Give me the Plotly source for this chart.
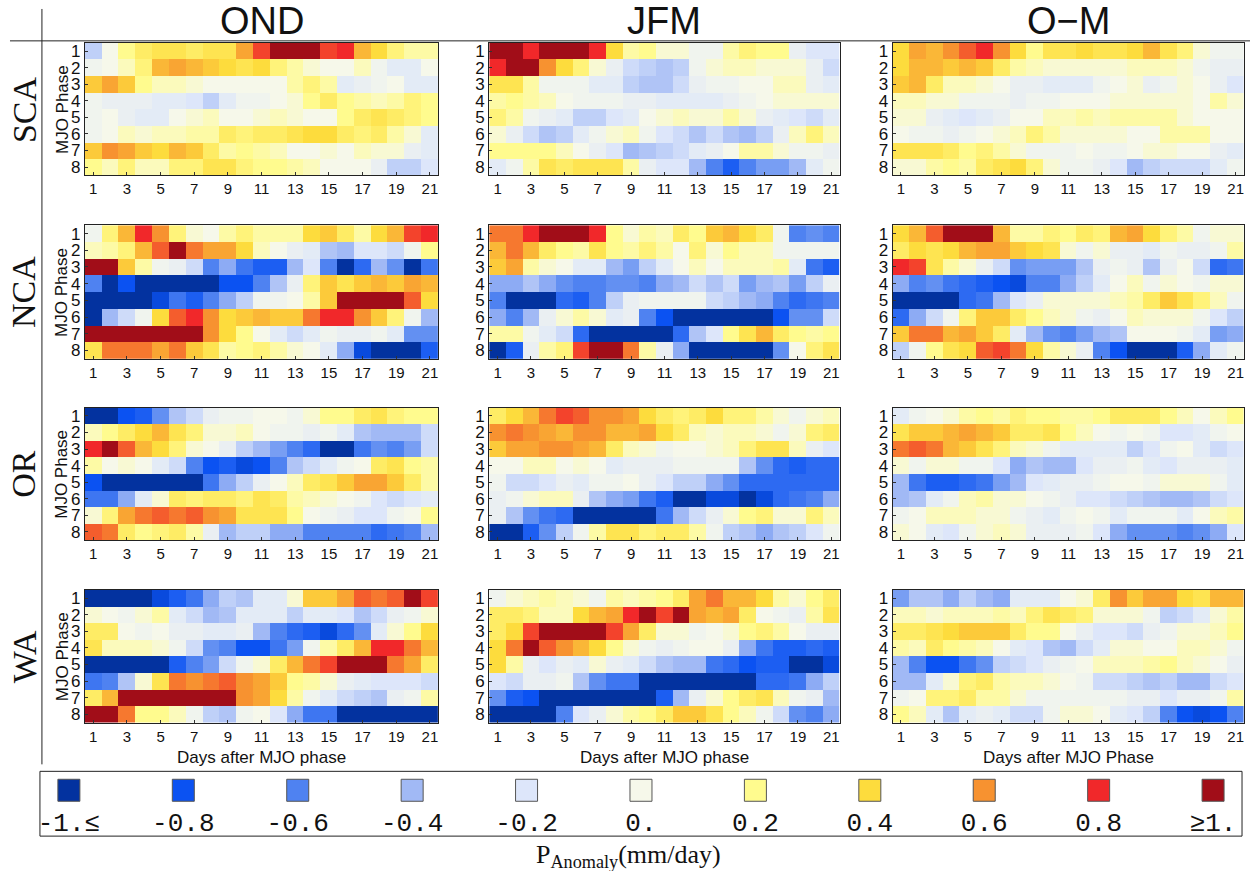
import plotly.graph_objects as go

# ---------------- data (precipitation anomaly, in tenths of mm/day) ----------------
days = list(range(1, 22))
phases = list(range(1, 9))
seasons = ["OND", "JFM", "O\u2212M"]
regions = ["SCA", "NCA", "OR", "WA"]
xlabels = ["Days after MJO phase", "Days after MJO phase", "Days after MJO Phase"]

SCA_OND = [
    [-3, 0, 2, 3, 3.5, 3.5, 3, 3.5, 3.5, 5.5, 7.5, 10, 10, 10, 7.5, 8, 5, 4, 2.5, 1.5, 1.5],
    [-0.5, 0, 1, 2.5, 5, 5.5, 5, 4.5, 4, 3.5, 4, 2.5, 1.5, 0.5, 0, 0, 1, -0.5, -1.5, -1.5, 0],
    [4.5, 5.5, 4.5, 2, 1, 1, 0.5, 0, 0, 0, 0, 0, 1.5, 2.5, 1.5, -1.5, -1, -0.5, 0, -1.5, -1.5],
    [-0.5, -1, -1, -1, -1.5, -1.5, -2, -3, -1.5, -0.5, -0.5, 0, 0.5, 2, 3, 2, 1.5, 1, 1.5, 2.5, 2],
    [-0.5, 0, -1, -1.5, -1.5, 0, 0.5, 1, 0, 0, 0.5, 1, 0.5, 0, 0, 2, 3, 3.5, 3, 2.5, 2],
    [-0.5, 0, 1, 0.5, 1, 1, 1.5, 1.5, 3, 2.5, 3, 3, 3.5, 4, 4, 3, 2.5, 3, 1.5, 0.5, -1.5],
    [4.5, 6, 5.5, 4.5, 4, 5, 4.5, 3, 1.5, 2, 1.5, 1, 0, 0, 0.5, 0, 1, 0.5, 0.5, -1, -1.5],
    [2, 1, 2.5, 1, 1, 2.5, 2.5, 3.5, 3.5, 2.5, 2, 2, 1.5, 1, 0, 0, 0, -1, -3, -3, -2],
]
SCA_JFM = [
    [10, 10, 8, 10, 10, 10, 8, 4, 1.5, 2, 0.5, 0.5, -0.5, -0.5, 1.5, 2.5, 2, 2, -1, -2, -2],
    [8, 10, 10, 6, 4, 2.5, 0.5, -1, -2.5, -3, -3.5, -3, -0.5, 0.5, 1, 1, 0.5, 0.5, 0.5, -1, -2.5],
    [3.5, 3.5, 1.5, -0.5, -0.5, -0.5, -1.5, -1.5, -3, -3.5, -3.5, -2.5, -1, -0.5, -0.5, 0, 0, 1, 1, -1, -1.5],
    [1.5, 2, 1.5, 1, 0, -0.5, -0.5, -0.5, -1, -1, -1.5, -1.5, -1.5, -1.5, -1, -0.5, 0, 0.5, 0.5, 0.5, 0.5],
    [2.5, 1.5, -0.5, -1, -1.5, -3, -3, -2, -1.5, 0, 0.5, 1, 0.5, 0.5, 1.5, 0.5, -1, -1.5, -2, -2.5, -1.5],
    [0.5, -1, -2.5, -3.5, -3, -1.5, -0.5, 0.5, 1, -0.5, -2, -2.5, -3.5, -2.5, -3.5, -4, -3, -1, 1, 2.5, 1],
    [2, 2, 2, 2, 1, 0, -1, -2, -4, -3.5, -3, -2.5, -1.5, -1, 0, 1.5, 1.5, 0.5, -0.5, -0.5, -1],
    [-1.5, -0.5, 1.5, 3.5, 3, 3.5, 3.5, 3.5, 1.5, -1, -2, -2, -4, -6, -7.5, -6, -5, -5, -4, -1.5, -0.5],
]
SCA_OM = [
    [4, 5.5, 5, 6, 7, 8, 6, 4, 2, 3.5, 3.5, 4, 3.5, 3.5, 4, 5, 3.5, 2.5, 0.5, -0.5, -0.5],
    [4, 5, 5, 4.5, 5, 4.5, 3, 1.5, 1, 0.5, 0.5, 0.5, 0.5, 0.5, 1, 1, 1, 0.5, -0.5, -1, -1],
    [4.5, 5, 3, 1, 1, 0.5, 0, -1, -1, -1.5, -1.5, -1.5, -0.5, 0, 0.5, -1, -0.5, 0.5, 0, -1, -2],
    [1, 1, 0.5, 0.5, -0.5, -0.5, -0.5, -1, -0.5, -0.5, 0, 0, 0, 0.5, 0.5, 0.5, 0.5, 0.5, 0, 1.5, 0.5],
    [0.5, 0.5, -1, -1.5, -2, -1.5, -1, 0, 0, 1, 1, 1.5, 1, 1.5, 1.5, 1.5, 1.5, 0.5, 0, 0, 0],
    [0, -0.5, -0.5, -1, -0.5, 0, 0.5, 1, 2.5, 1.5, 0.5, 0.5, 0.5, 0.5, 0, 0, 1.5, 1.5, 1.5, 0, 0],
    [3.5, 3.5, 3.5, 3, 2, 2.5, 1.5, 0.5, -0.5, -0.5, -0.5, 0, -0.5, -0.5, 0, 0.5, 0.5, 0, 0, -1, -1.5],
    [0.5, 0.5, 1.5, 2, 1.5, 3, 3.5, 4, 2.5, 0.5, -0.5, -0.5, -1, -2, -4, -3, -2.5, -2.5, -2.5, -1.5, -0.5],
]
NCA_OND = [
    [-0.5, 2.5, 5, 8, 6, 2.5, 0.5, 0, 1.5, 2.5, 1.5, 1.5, 1.5, 4, 4.5, 3, 1.5, 4, 5, 7.5, 8],
    [1, 1.5, 2.5, 5, 7, 10, 6.5, 5.5, 5.5, 4, 1, 0, -1, -1.5, -3.5, -4, -2, -2, -2.5, -0.5, 2],
    [10, 10, 4.5, 1.5, -0.5, -1, -2.5, -6, -4.5, -6.5, -7.5, -7.5, -4, -2, -6, -10, -7, -4, -5.5, -10, -6.5],
    [-6, -10, -8, -10, -10, -10, -10, -10, -8, -8, -6, -3.5, -1, 2.5, 4.5, 3.5, 4.5, 5, 4.5, 5.5, 5],
    [-10, -10, -10, -10, -8.5, -6.5, -7.5, -6, -4.5, -3, -0.5, -0.5, 0, 1.5, 4.5, 10, 10, 10, 10, 7, 4],
    [-10, -4, -2.5, -0.5, 4, 7, 8, 6, 4, 4.5, 5, 4.5, 4.5, 6.5, 8, 8, 6, 4.5, 2.5, -0.5, -4],
    [10, 10, 10, 10, 10, 10, 10, 6, 4, 2, 0, -1.5, -2.5, -1.5, -0.5, -1, -1, -0.5, -1.5, -5.5, -5.5],
    [3.5, 6.5, 6.5, 6.5, 5.5, 6.5, 4.5, 3.5, 1.5, 2, 2.5, 1.5, 0.5, 0, -1.5, -4.5, -8.5, -10, -10, -10, -7.5],
]
NCA_JFM = [
    [6.5, 6.5, 8, 10, 10, 10, 8, 2, 0.5, 1.5, 1, 3, 2, 4.5, 5, 4, 3, -0.5, -6, -5.5, -6],
    [5, 6.5, 5, 3, 2, 1.5, 3.5, 2, 1.5, 2.5, 1.5, 0, 2.5, 0.5, 2, 1, 1, -0.5, -0.5, -0.5, -0.5],
    [4.5, 5.5, 1.5, 0.5, 0, -1.5, -1.5, -4, -5, -3, -1.5, 0, 1, 0, 1, 1, 1, 1.5, -1.5, -6.5, -7.5],
    [-4.5, -4.5, -3.5, -4.5, -5.5, -6, -6, -5.5, -5.5, -6, -4.5, -4, -2.5, -3.5, -2.5, -5, -4, -3.5, -5, -3, -1],
    [-6, -10, -10, -10, -7, -7.5, -6, -3, -1, -0.5, -0.5, -0.5, -0.5, -2.5, -3, -4, -4.5, -6, -7, -6.5, -6],
    [-4.5, -6, -4, -1, 0.5, 1.5, 0.5, -1.5, -1, -6, -8, -10, -10, -10, -10, -10, -10, -8, -5.5, -5.5, -2.5],
    [1.5, 1.5, -0.5, -1.5, -2.5, -7, -10, -10, -10, -10, -10, -7, -3.5, -2, 2, 3.5, 5, 3, 2, 1.5, 2],
    [-10, -7.5, -1, 1.5, 2.5, 7.5, 10, 10, 6.5, 1.5, -1, -4.5, -10, -10, -10, -10, -10, -5.5, 0, 2.5, 3.5],
]
NCA_OM = [
    [4, 5, 7, 10, 10, 10, 5, 1.5, 1.5, 2.5, 2, 3, 2.5, 5, 5.5, 4, 2.5, 1.5, -0.5, 0.5, 0.5],
    [3, 4, 3.5, 4, 5, 5.5, 5.5, 4.5, 4, 3.5, 0.5, -0.5, 0.5, -1, -1, -1.5, -0.5, -1, -1, -0.5, 1.5],
    [8, 7.5, 3.5, 1.5, 0.5, -1, -2.5, -5.5, -5, -5, -5, -3.5, -1, -0.5, -1, -3.5, -1, 0, -2.5, -7, -6.5],
    [-4.5, -6, -5.5, -6.5, -7, -7.5, -8, -8.5, -6, -6, -4.5, -3, -1.5, 0, 1, -0.5, 0.5, 0, -0.5, 0.5, 0.5],
    [-10, -10, -10, -10, -7, -6.5, -4, -2, -1, 0.5, 0.5, 0.5, 0.5, 1, 1.5, 3, 4.5, 3.5, 2.5, 1, -0.5],
    [-7, -4.5, -2.5, -0.5, 2.5, 4.5, 4.5, 3, 2, 1, 0.5, -0.5, -1, 0, 1, 0.5, 0.5, 0.5, -0.5, -2, -3],
    [4.5, 6.5, 6.5, 5, 5.5, 4.5, 3, -1.5, -4, -5.5, -6, -5, -4, -3.5, 0, 0, 0, -0.5, -1.5, -5, -4.5],
    [-3, -0.5, 2, 3.5, 4, 7, 7.5, 6.5, 4, 1.5, 0.5, -1, -6, -8, -10, -10, -10, -7.5, -4.5, -1.5, -0.5],
]
OR_OND = [
    [-10, -10, -8, -7.5, -5.5, -3.5, -2.5, -1, -0.5, -0.5, 0, 0, -0.5, 0.5, 2, 2, 3, 3.5, 2.5, 2, 2],
    [1, 2, 3, 4, 5, 3.5, 2.5, 0.5, 0.5, 1, 0, -0.5, -0.5, -1, -0.5, -1.5, -3.5, -4, -4, -4, -2.5],
    [8, 10, 7, 5, 4, 2.5, 0.5, 0, -1, -3, -4, -5, -6, -7, -10, -10, -6.5, -5.5, -6, -5, -2.5],
    [1.5, 0, 0.5, 0, -1.5, -2.5, -6, -8, -7.5, -8.5, -8, -6, -3.5, -2.5, -1.5, -0.5, 0, 3, 3.5, 2, 1.5],
    [-8, -10, -10, -10, -10, -10, -10, -6.5, -4.5, -3, -1, 0, 1, 3, 3.5, 4.5, 5.5, 5.5, 4.5, 3, 1.5],
    [-6.5, -6.5, -4.5, -1.5, 0.5, 3, 2.5, 3, 3, 2.5, 3.5, 3, 1.5, 1, 0.5, 0, -0.5, -2, -2.5, -2, -1.5],
    [0.5, 2.5, 5.5, 6.5, 7, 6.5, 7, 6, 5.5, 3.5, 3.5, 3.5, 2, 0, -0.5, -1, -2, -2, -0.5, 0, 2],
    [7, 6.5, 3, 2, 2.5, 3, 1.5, -1, -4, -3, -3, -4.5, -4.5, -6, -6, -6, -6, -7, -6.5, -6, -4],
]
OR_JFM = [
    [3, 4, 5, 6.5, 7.5, 7, 6, 6, 5.5, 4, 3, 2.5, 3, 4, 2.5, 2.5, 1.5, 0.5, -0.5, 0.5, 1],
    [6, 6.5, 6, 5.5, 5, 6, 6, 5, 5, 5.5, 4, 3, 1, 0.5, 1, 1, 0.5, -0.5, 0.5, 2.5, 3],
    [4.5, 5.5, 5.5, 6, 6, 5.5, 5, 3, 1, 0.5, -0.5, 0, 0, 0.5, 1, 2.5, 3.5, 3.5, 1, -1, -2],
    [0, 0, 1, 1, 0, 0.5, 0, -1.5, -1, -1, -1, -0.5, -0.5, -0.5, -0.5, -3.5, -5.5, -7, -7.5, -7, -7],
    [-0.5, -2.5, -2.5, -2, -1, -1.5, -0.5, -0.5, 0, -1, -2, -3, -3, -4.5, -5.5, -7, -7, -7, -7, -7, -7],
    [-1, -0.5, 0.5, 1, 1, -1, -3.5, -4.5, -5, -6.5, -7.5, -10, -10, -8.5, -8.5, -10, -8.5, -7, -6.5, -6, -4.5],
    [-1, -3.5, -5.5, -6.5, -7, -10, -10, -10, -10, -10, -6.5, -4, -2.5, -1, 0.5, 2, 2.5, 0.5, 0.5, 2.5, 1],
    [-10, -10, -7.5, -5.5, -3, -0.5, 1.5, 3.5, 3.5, 2.5, 3, 3, 1.5, -0.5, -3, -3.5, -4.5, -3.5, -3, -2, -0.5],
]
OR_OM = [
    [-1.5, -0.5, 0, 0.5, 1.5, 2, 1.5, 2.5, 2, 2, 1.5, 1.5, 2, 3, 3, 3, 2, 1, 0, 1, 2],
    [3.5, 4.5, 4.5, 5, 5.5, 5, 4.5, 3, 3, 3.5, 2, 1, 0, -0.5, 0, -0.5, -2, -2, -1.5, -0.5, 0],
    [6.5, 7, 6.5, 5, 4.5, 3.5, 2.5, 1, 0.5, -0.5, -1.5, -1.5, -1.5, -1.5, -3, -2, -0.5, 0, -1.5, -2.5, -2],
    [0.5, -0.5, 0.5, 0.5, -0.5, -0.5, -2, -4.5, -3.5, -4, -4, -2, -1, -1, -0.5, -1.5, -2, -1, -1, -1, -1.5],
    [-4, -6.5, -7.5, -7.5, -7, -6.5, -5, -4, -2, -1.5, -1, -1, -0.5, 0, 0, -0.5, 0.5, 0.5, 0.5, -0.5, -1.5],
    [-4, -3.5, -1.5, -0.5, 1, 1.5, 0.5, 0.5, 0, -0.5, -1, -2, -2, -2.5, -3, -3.5, -4, -4, -3.5, -2.5, -2],
    [-0.5, 0, 1, 1, 1, 0.5, 0.5, -0.5, -1, -1.5, -0.5, 0, -0.5, -1.5, -0.5, -0.5, -0.5, -1.5, 0, 1, 1.5],
    [0.5, 0, -1.5, -2, -0.5, 0.5, 1, 0.5, -1, -1, -1, -0.5, -2, -4.5, -5.5, -5.5, -5.5, -6, -5.5, -4.5, -2],
]
WA_OND = [
    [-10, -10, -10, -10, -8.5, -7.5, -6.5, -4.5, -3, -3.5, -1.5, -1.5, 0.5, 4.5, 4.5, 5.5, 7, 6.5, 7, 10, 7.5],
    [0.5, 0, -0.5, 0.5, 1.5, -1.5, -2.5, -4, -3.5, -1.5, -1.5, -1.5, -3, -1.5, -1.5, -2, -3.5, -2.5, -1, -0.5, 0.5],
    [3, 3, 0, -0.5, 0, -1, -1, -1.5, -1.5, -1, -4, -6, -7, -7.5, -8.5, -7, -5.5, -1.5, 0.5, 2, 4],
    [3.5, 1, 1, 1, 0.5, -0.5, -2.5, -5.5, -6, -8, -8, -6.5, -5, -0.5, 1.5, 3, 5, 8, 8, 6.5, 5],
    [-10, -10, -10, -10, -10, -7.5, -6, -5, -2.5, -0.5, 0.5, 3, 5, 6.5, 7.5, 10, 10, 10, 6.5, 5.5, 3],
    [-6.5, -6, -3.5, 0.5, 3.5, 6.5, 6, 6.5, 7, 6, 5.5, 4.5, 2, 1.5, 0.5, -1, -1.5, -2, -2, -2, -2.5],
    [3, 5, 10, 10, 10, 10, 10, 10, 10, 6, 5.5, 4, 1.5, -0.5, -1.5, -2.5, -3, -3.5, -1, -0.5, 1.5],
    [10, 10, 6.5, 2, 2, 1, -0.5, -3, -3.5, -0.5, 0, -2, -4.5, -6.5, -6.5, -10, -10, -10, -10, -10, -10],
]
WA_JFM = [
    [-0.5, 0.5, 1, 1.5, 1, 0.5, -0.5, 1.5, 1, 1.5, 2, 3, 5.5, 6.5, 5, 5, 4, 1.5, 0.5, 2, 3],
    [3, 3, 2.5, 1, 1, 4, 5, 5.5, 8, 10, 7.5, 10, 5.5, 5, 5.5, 3, 0, -0.5, -1, 1.5, 3.5],
    [3, 4, 7.5, 10, 10, 10, 10, 7.5, 5.5, 3, 0.5, 0.5, -0.5, 0, 0.5, 2, 2.5, 1.5, 0, -1, -1],
    [4, 6.5, 10, 7, 6, 5, 4, 2, 0.5, -0.5, -1, -0.5, 0, 0, -1, -4.5, -6.5, -7.5, -7.5, -7, -7.5],
    [4, 1.5, -1, -2, -1, -1.5, 0.5, -1, -1.5, -2.5, -3.5, -4, -4, -6.5, -7, -8, -7.5, -7.5, -10, -10, -8.5],
    [-2, -2.5, -1, -1, -0.5, -3.5, -5.5, -6.5, -6.5, -10, -10, -10, -10, -10, -10, -10, -7, -7, -6.5, -4.5, -3],
    [-5.5, -7.5, -8, -10, -10, -10, -10, -10, -10, -10, -7.5, -4, -1, 0.5, 2, 3, 3.5, 1, -0.5, -1, -4],
    [-10, -10, -10, -10, -6, -2, -1, 0.5, 1.5, 2, 3, 4.5, 4.5, 3.5, 2, 1, -0.5, -2.5, -5.5, -6, -4.5],
]
WA_OM = [
    [-5, -3.5, -3.5, -4.5, -3, -4, -4.5, -1.5, -1.5, -1.5, 0, 0.5, 3, 6, 4.5, 5.5, 5.5, 4, 3.5, 5, 5],
    [1, 1, 0.5, 1, 1, 1, 1.5, 1, 2.5, 3.5, 3, 2.5, 0.5, 0.5, 0.5, -0.5, -3, -2.5, -1.5, 0.5, 1.5],
    [3, 3, 3.5, 4, 4.5, 4.5, 4.5, 3, 2, 2, 0, -1, -2, -2, -2.5, -1, -0.5, 0.5, 0.5, 1, 2],
    [1.5, 1, 3, 2, 1.5, 1, 0, -1.5, -2, -3.5, -4, -2.5, -1.5, 0.5, 0.5, 0, 0, 1, 1, 0.5, -0.5],
    [-4, -6, -8, -8, -6.5, -5.5, -3, -2.5, -2, -1, -0.5, 0, 1, 1, 1, 1.5, 2, 1, 0.5, 0, -1],
    [-4, -4, -1.5, 0.5, 2.5, 3, 1.5, 1, 1, 0.5, 0, -0.5, -2.5, -2.5, -3, -3.5, -3, -4, -4, -2.5, -2],
    [-0.5, 0, 2.5, 2.5, 3, 1.5, 1.5, 0.5, -0.5, -0.5, -0.5, -0.5, -0.5, -0.5, -1, -1, -2, -1, -1, -0.5, 1.5],
    [2, 1, -1.5, -3.5, -1.5, -1, -1.5, -2.5, -2.5, -0.5, 0.5, 0.5, 0, -1.5, -2, -3, -6, -8, -8.5, -8, -6],
]

panels = [
    [SCA_OND, SCA_JFM, SCA_OM],
    [NCA_OND, NCA_JFM, NCA_OM],
    [OR_OND, OR_JFM, OR_OM],
    [WA_OND, WA_JFM, WA_OM],
]

legend_levels = [-1.0, -0.8, -0.6, -0.4, -0.2, 0.0, 0.2, 0.4, 0.6, 0.8, 1.0]
legend_labels = ["-1.\u2264", "-0.8", "-0.6", "-0.4", "-0.2", "0.", "0.2", "0.4", "0.6", "0.8", "\u22651."]
level_colors = ["#03329f", "#0b52f2", "#4f82f1", "#a1b9f5", "#dde6fa", "#f6f8ea",
                "#fffb8e", "#fddc3d", "#f79230", "#f1282a", "#a10d18"]

# ---------------- layout geometry ----------------
W, H = 1255, 871
colscale = [[(v + 1) / 2, c] for v, c in zip(legend_levels, level_colors)]
col_px = [(83, 437), (488, 839), (892, 1244)]
row_px = [(42, 175), (225, 359), (408, 541), (591, 724)]

def px(x):
    return x / W

def py(y):
    return 1 - y / H

SANS = "Liberation Sans, Arial, sans-serif"
SERIF = "Liberation Serif, Times New Roman, serif"
MONO = "Liberation Mono, Courier New, monospace"

fig = go.Figure()
layout = dict(
    width=W, height=H, autosize=False,
    margin=dict(l=0, r=0, t=0, b=0),
    paper_bgcolor="white", plot_bgcolor="white",
    showlegend=False,
)

k = 0
for r, region in enumerate(regions):
    for c, season in enumerate(seasons):
        k += 1
        z = [[v / 10 for v in row] for row in panels[r][c]]
        xa = "x" if k == 1 else f"x{k}"
        ya = "y" if k == 1 else f"y{k}"
        fig.add_trace(go.Heatmap(
            z=z, x=days, y=phases, xaxis=xa, yaxis=ya,
            colorscale=colscale, zmin=-1, zmax=1, showscale=False,
            hoverinfo="skip",
        ))
        xk = "xaxis" if k == 1 else f"xaxis{k}"
        yk = "yaxis" if k == 1 else f"yaxis{k}"
        x0, x1 = col_px[c]
        y0, y1 = row_px[r]
        layout[xk] = dict(
            domain=[px(x0), px(x1)], anchor=ya, range=[0.5, 21.5],
            tickvals=list(range(1, 22, 2)), ticks="inside", ticklen=3,
            tickcolor="#333", showgrid=False, zeroline=False,
            showline=True, linecolor="#222", linewidth=1, mirror=True,
            tickfont=dict(family=SANS, size=15, color="#111"),
        )
        layout[yk] = dict(
            domain=[py(y1), py(y0)], anchor=xa, range=[8.5, 0.5],
            tickvals=phases, ticks="inside", ticklen=3,
            tickcolor="#333", showgrid=False, zeroline=False,
            showline=True, linecolor="#222", linewidth=1, mirror=True,
            tickfont=dict(family=SANS, size=17, color="#111"),
        )

# legend key as a scatter on its own axis
fig.add_trace(go.Scatter(
    x=legend_levels, y=[0.5] * len(legend_levels), xaxis="x13", yaxis="y13",
    mode="markers", hoverinfo="skip",
    marker=dict(symbol="square", size=22, color=legend_levels,
                colorscale=colscale, cmin=-1, cmax=1,
                line=dict(width=1, color="#555")),
))
lx0, lx1 = 38, 1242
cx_first, cx_last = 67, 1213
b = (cx_last - cx_first) / 2
a = (cx_last + cx_first) / 2
layout["xaxis13"] = dict(
    domain=[px(lx0), px(lx1)], anchor="y13",
    range=[(lx0 - a) / b, (lx1 - a) / b],
    tickvals=legend_levels, ticktext=legend_labels, ticks="",
    showgrid=False, zeroline=False, showline=False,
    tickfont=dict(family=MONO, size=26, color="#111"),
)
layout["yaxis13"] = dict(
    domain=[py(806), py(778)], anchor="x13", range=[0, 1],
    showticklabels=False, ticks="", showgrid=False, zeroline=False, showline=False,
)

shapes = [
    dict(type="line", xref="paper", yref="paper", x0=px(8), x1=px(1250), y0=py(40), y1=py(40),
         line=dict(color="#222", width=1)),
    dict(type="line", xref="paper", yref="paper", x0=px(40), x1=px(40), y0=py(8), y1=py(766),
         line=dict(color="#222", width=1)),
    dict(type="rect", xref="paper", yref="paper", x0=px(38), x1=px(1242), y0=py(773), y1=py(838),
         line=dict(color="#222", width=1)),
]

annotations = []
col_centers = [(a0 + a1) / 2 for a0, a1 in col_px]
for c, s in enumerate(seasons):
    annotations.append(dict(x=px(col_centers[c]), y=py(20), xref="paper", yref="paper",
                            text=s, showarrow=False, xanchor="center", yanchor="middle",
                            font=dict(family=SANS, size=38, color="#111")))
    annotations.append(dict(x=px(col_centers[c]), y=py(759), xref="paper", yref="paper",
                            text=xlabels[c], showarrow=False, xanchor="center", yanchor="middle",
                            font=dict(family=SANS, size=17, color="#111")))
for r, reg in enumerate(regions):
    yc = (row_px[r][0] + row_px[r][1]) / 2
    annotations.append(dict(x=px(22), y=py(yc), xref="paper", yref="paper",
                            text=reg, showarrow=False, textangle=-90,
                            xanchor="center", yanchor="middle",
                            font=dict(family=SERIF, size=34, color="#111")))
    annotations.append(dict(x=px(60), y=py(yc), xref="paper", yref="paper",
                            text="MJO Phase", showarrow=False, textangle=-90,
                            xanchor="center", yanchor="middle",
                            font=dict(family=SANS, size=17, color="#111")))
annotations.append(dict(x=px(628), y=py(858), xref="paper", yref="paper",
                        text="P<sub>Anomaly</sub>(mm/day)", showarrow=False,
                        xanchor="center", yanchor="middle",
                        font=dict(family=SERIF, size=26, color="#111")))

layout["shapes"] = shapes
layout["annotations"] = annotations
fig.update_layout(**layout)
fig.write_html("out.html")
